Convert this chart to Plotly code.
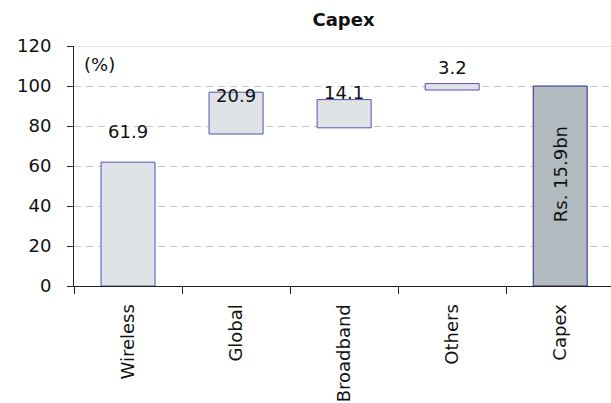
import plotly.graph_objects as go

categories = ["Wireless", "Global", "Broadband", "Others", "Capex"]
values = [61.9, 20.9, 14.1, 3.2, 100.0]
bases = [0.0, 76.0, 79.1, 98.0, 0.0]
value_labels = ["61.9", "20.9", "14.1", "3.2", None]
label_y = [77.3, 95.3, 97.0, 109.5, None]
total_label = "Rs. 15.9bn"
y_ticks = [0, 20, 40, 60, 80, 100, 120]

FONT = "DejaVu Sans"
FS = 18
fill = ["#e0e3e6"] * 4 + ["#b1babe"]
edge = ["#5252b4"] * 4 + ["#2c2c90"]

fig = go.Figure()
fig.add_trace(go.Bar(
    x=list(range(len(categories))), y=values, base=bases, width=0.5,
    marker=dict(color=fill, line=dict(color=edge, width=1)),
    showlegend=False, hoverinfo="skip",
))
# invisible trace to drive the boundary-tick axis
fig.add_trace(go.Scatter(x=[-0.5], y=[0], xaxis="x2", mode="markers",
                         marker=dict(opacity=0), showlegend=False, hoverinfo="skip"))

for i, (t, yv) in enumerate(zip(value_labels, label_y)):
    if t is None:
        continue
    fig.add_annotation(x=i, y=yv, text=t, showarrow=False,
                       font=dict(family=FONT, size=FS, color="#111"))

fig.add_annotation(x=4, y=56, text=total_label, textangle=-90, showarrow=False,
                   font=dict(family=FONT, size=FS, color="#111"))
fig.add_annotation(x=-0.5, y=111, xanchor="left", xshift=8, text="(%)", showarrow=False,
                   font=dict(family=FONT, size=FS, color="#111"))

xr = [-0.5, 4.47]
fig.update_layout(
    width=611, height=403,
    margin=dict(l=74, r=0, t=46, b=117),
    paper_bgcolor="white", plot_bgcolor="white",
    font=dict(family=FONT, size=FS, color="#111"),
    title=dict(text="<b>Capex</b>", x=343.5 / 611, xanchor="center",
               y=1 - 20 / 403, yanchor="middle",
               font=dict(family=FONT, size=FS, color="#111")),
    bargap=0.5,
    xaxis=dict(range=xr, tickmode="array", tickvals=list(range(len(categories))),
               ticktext=categories, tickangle=-90, ticks="", showgrid=False,
               showline=True, linecolor="#222", linewidth=1, zeroline=False,
               automargin=False, ticklabelstandoff=10,
               tickfont=dict(family=FONT, size=FS)),
    xaxis2=dict(range=xr, overlaying="x", side="bottom", anchor="y",
                tickmode="array", tickvals=[-0.5, 0.5, 1.5, 2.5, 3.5],
                showticklabels=False, ticks="outside", ticklen=7, tickcolor="#222",
                showgrid=False, showline=False, zeroline=False, automargin=False),
    yaxis=dict(range=[0, 120], tickmode="array", tickvals=y_ticks,
               ticks="outside", ticklen=6, tickcolor="#222",
               showline=True, linecolor="#222", linewidth=1,
               showgrid=True, gridcolor="#c8c8c8", griddash="7px,5px",
               zeroline=False, automargin=False, ticklabelstandoff=12,
               tickfont=dict(family=FONT, size=FS)),
)
fig.add_shape(type="line", xref="paper", yref="y", x0=0, x1=1, y0=120, y1=120,
              line=dict(color="#c8c8c8", width=1))

fig.write_html("out.html", config={"displayModeBar": False},
               post_script="document.body.style.margin='0px';document.body.style.overflow='hidden';")
